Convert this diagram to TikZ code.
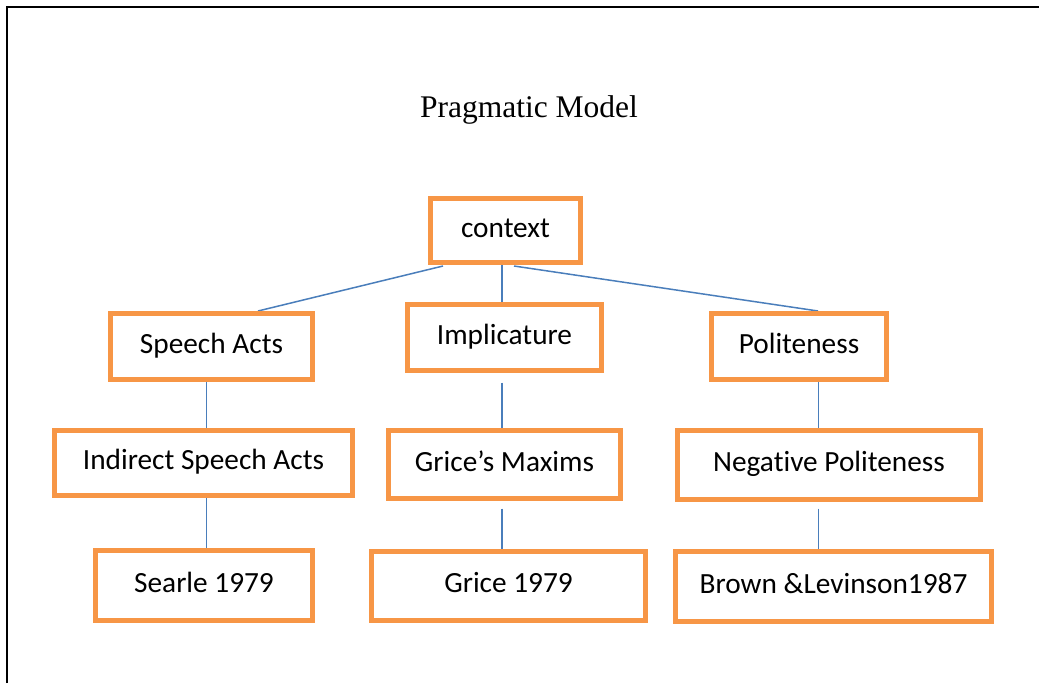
\documentclass[tikz,border=0pt]{standalone}
\usepackage{fontspec}
\setmainfont{Liberation Serif}
\newfontfamily\calibri[Ligatures=NoCommon]{Carlito}
\usepackage{xcolor}
\usetikzlibrary{positioning, calc, backgrounds}

\definecolor{boxorange}{HTML}{F79646}
\definecolor{linkblue}{HTML}{4A7EBB}

\begin{document}
\begin{tikzpicture}[
    x=1pt, y=-1pt,
    concept/.style={draw=boxorange, line width=5pt, fill=white, inner sep=0pt,
                    text height=20pt, text depth=7pt,
                    font=\calibri\fontsize{29.3}{34}\selectfont},
    link/.style={draw=linkblue, line width=1.5pt},
]
\useasboundingbox (0,0) rectangle (1039,683);
\draw[line width=2.5pt] (7,683) -- (7,7) -- (1039,7);

\node[anchor=base, font=\fontsize{31.5}{36}\selectfont] (title) at (529,117) {Pragmatic Model};

% top level
\node[concept, minimum width=150pt, minimum height=64pt] (ctx) at (505.5,230.5) {context};

% second level
\node[concept, minimum width=202pt, minimum height=66pt] (speech) at (211.5,346.5) {Speech Acts};
\node[concept, minimum width=194pt, minimum height=66pt] (impl) at (504.5,337.5) {Implicature};
\node[concept, minimum width=175pt, minimum height=66pt] (polite) at (799,346.5) {Politeness};

% third level
\node[concept, minimum width=298pt, minimum height=65pt] (indirect) at (203.5,463) {Indirect Speech Acts};
\node[concept, minimum width=232pt, minimum height=68pt] (maxims) at (504.5,464.5) {Grice’s Maxims};
\node[concept, minimum width=303pt, minimum height=69pt] (negative) at (829,465) {Negative Politeness};

% references
\node[concept, minimum width=217pt, minimum height=70pt] (searle) at (204,585.5) {Searle 1979};
\node[concept, minimum width=274pt, minimum height=69pt] (grice) at (508.5,586) {Grice 1979};
\node[concept, minimum width=316pt, minimum height=70pt] (brown) at (833.5,586.5) {Brown \&Levinson1987};

% connectors behind the boxes
\begin{scope}[on background layer]
\draw[link] ([xshift=-62.5pt,yshift=-1pt]ctx.south) -- ([xshift=46.5pt]speech.north);
\draw[link] ([xshift=-3.75pt]ctx.south) -- ([xshift=-2.75pt]impl.north);
\draw[link] ([xshift=8.5pt,yshift=-1pt]ctx.south) -- ([xshift=19pt]polite.north);

\draw[link] ([xshift=-5.25pt]speech.south) -- ([xshift=2.75pt]indirect.north);
\draw[link] ([xshift=-2.75pt,yshift=-9.5pt]impl.south) -- ([xshift=-2.75pt]maxims.north);
\draw[link] ([xshift=19.25pt]polite.south) -- ([xshift=-10.75pt]negative.north);

\draw[link] ([xshift=2.75pt]indirect.south) -- ([xshift=2.25pt]searle.north);
\draw[link] ([xshift=-2.75pt,yshift=-7.5pt]maxims.south) -- ([xshift=-6.75pt]grice.north);
\draw[link] ([xshift=-10.75pt,yshift=-6.5pt]negative.south) -- ([xshift=-15.25pt]brown.north);
\end{scope}
\end{tikzpicture}
\end{document}
